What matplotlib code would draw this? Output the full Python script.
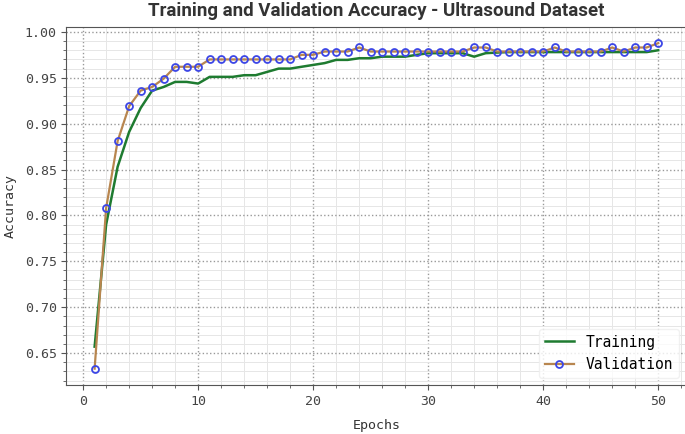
import numpy as np
import matplotlib
matplotlib.use('Agg')
import matplotlib.pyplot as plt
from matplotlib.ticker import AutoMinorLocator

plt.rcParams['font.family'] = ['DejaVu Sans Mono']

epochs = list(range(1, 51))
train_acc = [0.657, 0.790, 0.853, 0.891, 0.917, 0.936, 0.940, 0.9455, 0.9455, 0.9437,
             0.951, 0.951, 0.951, 0.9528, 0.9528, 0.9564, 0.960, 0.960, 0.962, 0.964,
             0.966, 0.9695, 0.9695, 0.9713, 0.9713, 0.973, 0.973, 0.973, 0.975, 0.9768,
             0.9768, 0.9768, 0.9768, 0.973, 0.9768, 0.9775, 0.978, 0.978, 0.978, 0.978,
             0.978, 0.978, 0.978, 0.978, 0.978, 0.978, 0.978, 0.978, 0.978, 0.980]
val_acc = [0.633, 0.808, 0.881, 0.919, 0.936, 0.940, 0.949, 0.962, 0.962, 0.962,
           0.970, 0.970, 0.970, 0.970, 0.970, 0.970, 0.970, 0.970, 0.975, 0.975,
           0.9786, 0.9786, 0.9786, 0.983, 0.9786, 0.9786, 0.9786, 0.9786, 0.9786, 0.9786,
           0.9786, 0.9786, 0.9786, 0.983, 0.983, 0.9786, 0.9786, 0.9786, 0.9786, 0.9786,
           0.983, 0.9786, 0.9786, 0.9786, 0.9786, 0.983, 0.9786, 0.983, 0.983, 0.9877]

fig = plt.figure(figsize=(6.85, 4.34), dpi=100)
ax = fig.add_axes([0.097, 0.113, 0.905, 0.825])

ax.plot(epochs, train_acc, color='#1e7b30', lw=1.8, label='Training')
ax.plot(epochs, val_acc, color='#b8864f', lw=1.6, marker='o', markersize=5,
        markerfacecolor='none', markeredgecolor='#3c46e6', markeredgewidth=1.3,
        label='Validation')

ax.xaxis.set_minor_locator(AutoMinorLocator(5))
ax.yaxis.set_minor_locator(AutoMinorLocator(5))
ax.grid(which='major', linestyle=':', color='#999999', linewidth=1.0)
ax.grid(which='minor', linestyle='-', color='#e6e6e6', linewidth=0.7)
ax.set_axisbelow(True)

for s in ax.spines.values():
    s.set_color('#555555')
ax.spines['right'].set_visible(False)
ax.tick_params(which='both', colors='#555555', labelcolor='#444444', labelsize=9.5)
ax.tick_params(which='minor', length=2)

ax.set_xlabel('Epochs', fontsize=9.5, color='#333333', labelpad=8)
ax.set_ylabel('Accuracy', fontsize=9.5, color='#333333', labelpad=6)
ax.set_title('Training and Validation Accuracy - Ultrasound Dataset',
             family='Roboto', fontweight='bold', fontsize=13.5, color='#333333', pad=8)

leg = ax.legend(loc='lower right', fontsize=10.5, frameon=True, fancybox=True)
leg.get_frame().set_edgecolor('#eeeeee')

fig.savefig('out.png', dpi=100)
